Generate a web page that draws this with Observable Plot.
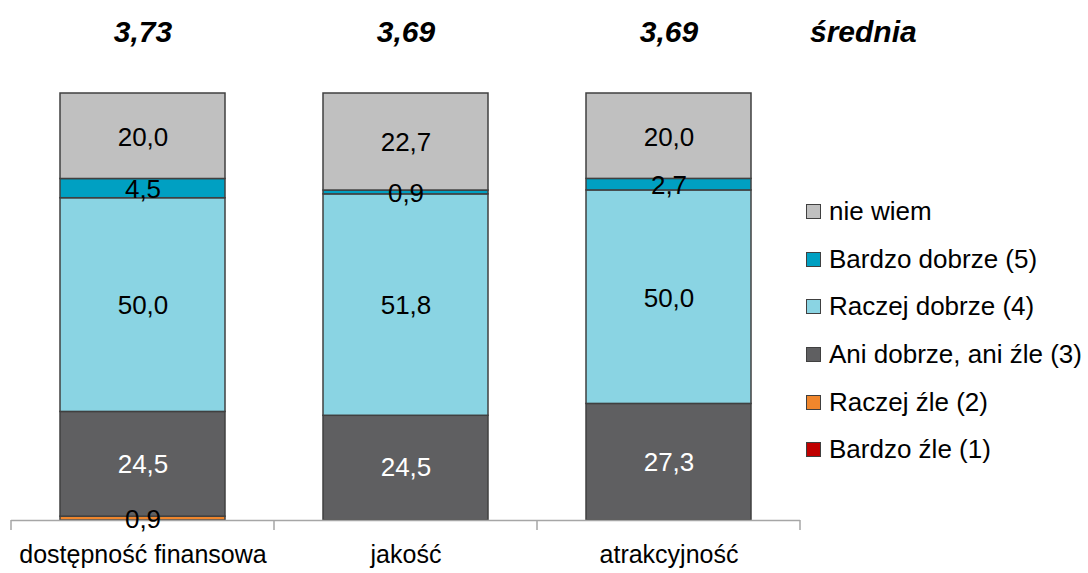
<!DOCTYPE html>
<html><head><meta charset="utf-8">
<script src="https://cdn.jsdelivr.net/npm/d3@7"></script>
<script src="https://cdn.jsdelivr.net/npm/@observablehq/plot@0.6"></script>
<style>
body{margin:0;background:#fff;font-family:"Liberation Sans",Arial,sans-serif;}
#wrap{position:relative;width:1088px;height:573px;overflow:hidden;}
#wrap svg{position:absolute;left:0;top:0;}
#srednia{position:absolute;left:810px;top:14px;font-size:30px;font-weight:bold;font-style:italic;line-height:36px;color:#000;}
#legend{position:absolute;left:806px;top:188px;}
.row{height:47.6px;display:flex;align-items:center;font-size:26px;color:#000;}
.sw{width:13px;height:13px;border:1.5px solid #404040;margin-right:8px;flex:none;}
</style></head><body><div id="wrap"></div>
<script>
const categories = ["dostępność finansowa", "jakość", "atrakcyjność"];
const averages = [3.73, 3.69, 3.69];
const series = ["Bardzo źle (1)", "Raczej źle (2)", "Ani dobrze, ani źle (3)", "Raczej dobrze (4)", "Bardzo dobrze (5)", "nie wiem"];
const colors = ["#c00000", "#f0862c", "#5f5f61", "#8ad4e3", "#00a0c2", "#c0c0c0"];
const bardzoZle = [0, 0, 0];
const raczejZle = [0.9, 0, 0];
const aniDobrzeAniZle = [24.5, 24.5, 27.3];
const raczejDobrze = [50.0, 51.8, 50.0];
const bardzoDobrze = [4.5, 0.9, 2.7];
const nieWiem = [20.0, 22.7, 20.0];
const averageLabel = "średnia";

const seriesValues = [bardzoZle, raczejZle, aniDobrzeAniZle, raczejDobrze, bardzoDobrze, nieWiem];
const data = [];
categories.forEach((c, i) => series.forEach((s, j) => data.push({cat: c, series: s, value: seriesValues[j][i]})));
const avgData = categories.map((c, i) => ({cat: c, avg: averages[i]}));
const fmt1 = v => v.toFixed(1).replace(".", ",");
const fmt2 = v => v.toFixed(2).replace(".", ",");
const font = '"Liberation Sans",Arial,sans-serif';
const stackOpts = {offset: "normalize", order: series, x: "cat", y: "value", z: "series"};

const plot = Plot.plot({
  width: 1088, height: 573,
  marginLeft: 11, marginRight: 288, marginTop: 93, marginBottom: 53,
  x: {domain: categories, paddingInner: 0.373, paddingOuter: 0.1865, label: null},
  y: {domain: [0, 1], axis: null},
  color: {domain: series, range: colors},
  style: {fontFamily: font, fontSize: "26px", background: "transparent", color: "#000"},
  marks: [
    Plot.barY(data, Plot.stackY({...stackOpts, fill: "series", stroke: "#404040", strokeWidth: 1.5})),
    Plot.ruleY([0], {stroke: "#a6a6a6", strokeWidth: 1.5}),
    Plot.text(data, Plot.stackY({...stackOpts, text: d => (d.value > 0 && d.series !== series[2]) ? fmt1(d.value) : null, fill: "#000", fontSize: 26, dy: 1})),
    Plot.text(data, Plot.stackY({...stackOpts, text: d => (d.value > 0 && d.series === series[2]) ? fmt1(d.value) : null, fill: "#fff", fontSize: 26})),
    Plot.text(avgData, {x: "cat", text: d => fmt2(d.avg), frameAnchor: "top", lineAnchor: "middle", dy: -61, fontSize: 30, fontWeight: "bold", fontStyle: "italic", fill: "#000"}),
    Plot.axisX({tickSize: 0, tickPadding: 25, fontSize: 25, fill: "#000", label: null})
  ]
});

// tick marks at category boundaries, placed with the plot's own x scale
const xs = plot.scale("x");
const ys = plot.scale("y");
const y0 = ys.apply(0);
const gap = (xs.step - xs.bandwidth) / 2;
const bounds = categories.map(c => xs.apply(c) - gap);
bounds.push(xs.apply(categories[categories.length - 1]) + xs.bandwidth + gap);
d3.select(plot).append("g").selectAll("line").data(bounds).join("line")
  .attr("x1", d => d).attr("x2", d => d).attr("y1", y0).attr("y2", y0 + 10)
  .attr("stroke", "#a6a6a6").attr("stroke-width", 1.5);

const wrap = document.getElementById("wrap");
wrap.appendChild(plot);
const sr = document.createElement("div");
sr.id = "srednia"; sr.textContent = averageLabel;
wrap.appendChild(sr);
const lg = document.createElement("div");
lg.id = "legend";
[...series].reverse().forEach(s => {
  const r = document.createElement("div"); r.className = "row";
  const sw = document.createElement("span"); sw.className = "sw";
  sw.style.background = colors[series.indexOf(s)];
  const t = document.createElement("span"); t.textContent = s;
  r.appendChild(sw); r.appendChild(t); lg.appendChild(r);
});
wrap.appendChild(lg);
</script>
</body></html>
